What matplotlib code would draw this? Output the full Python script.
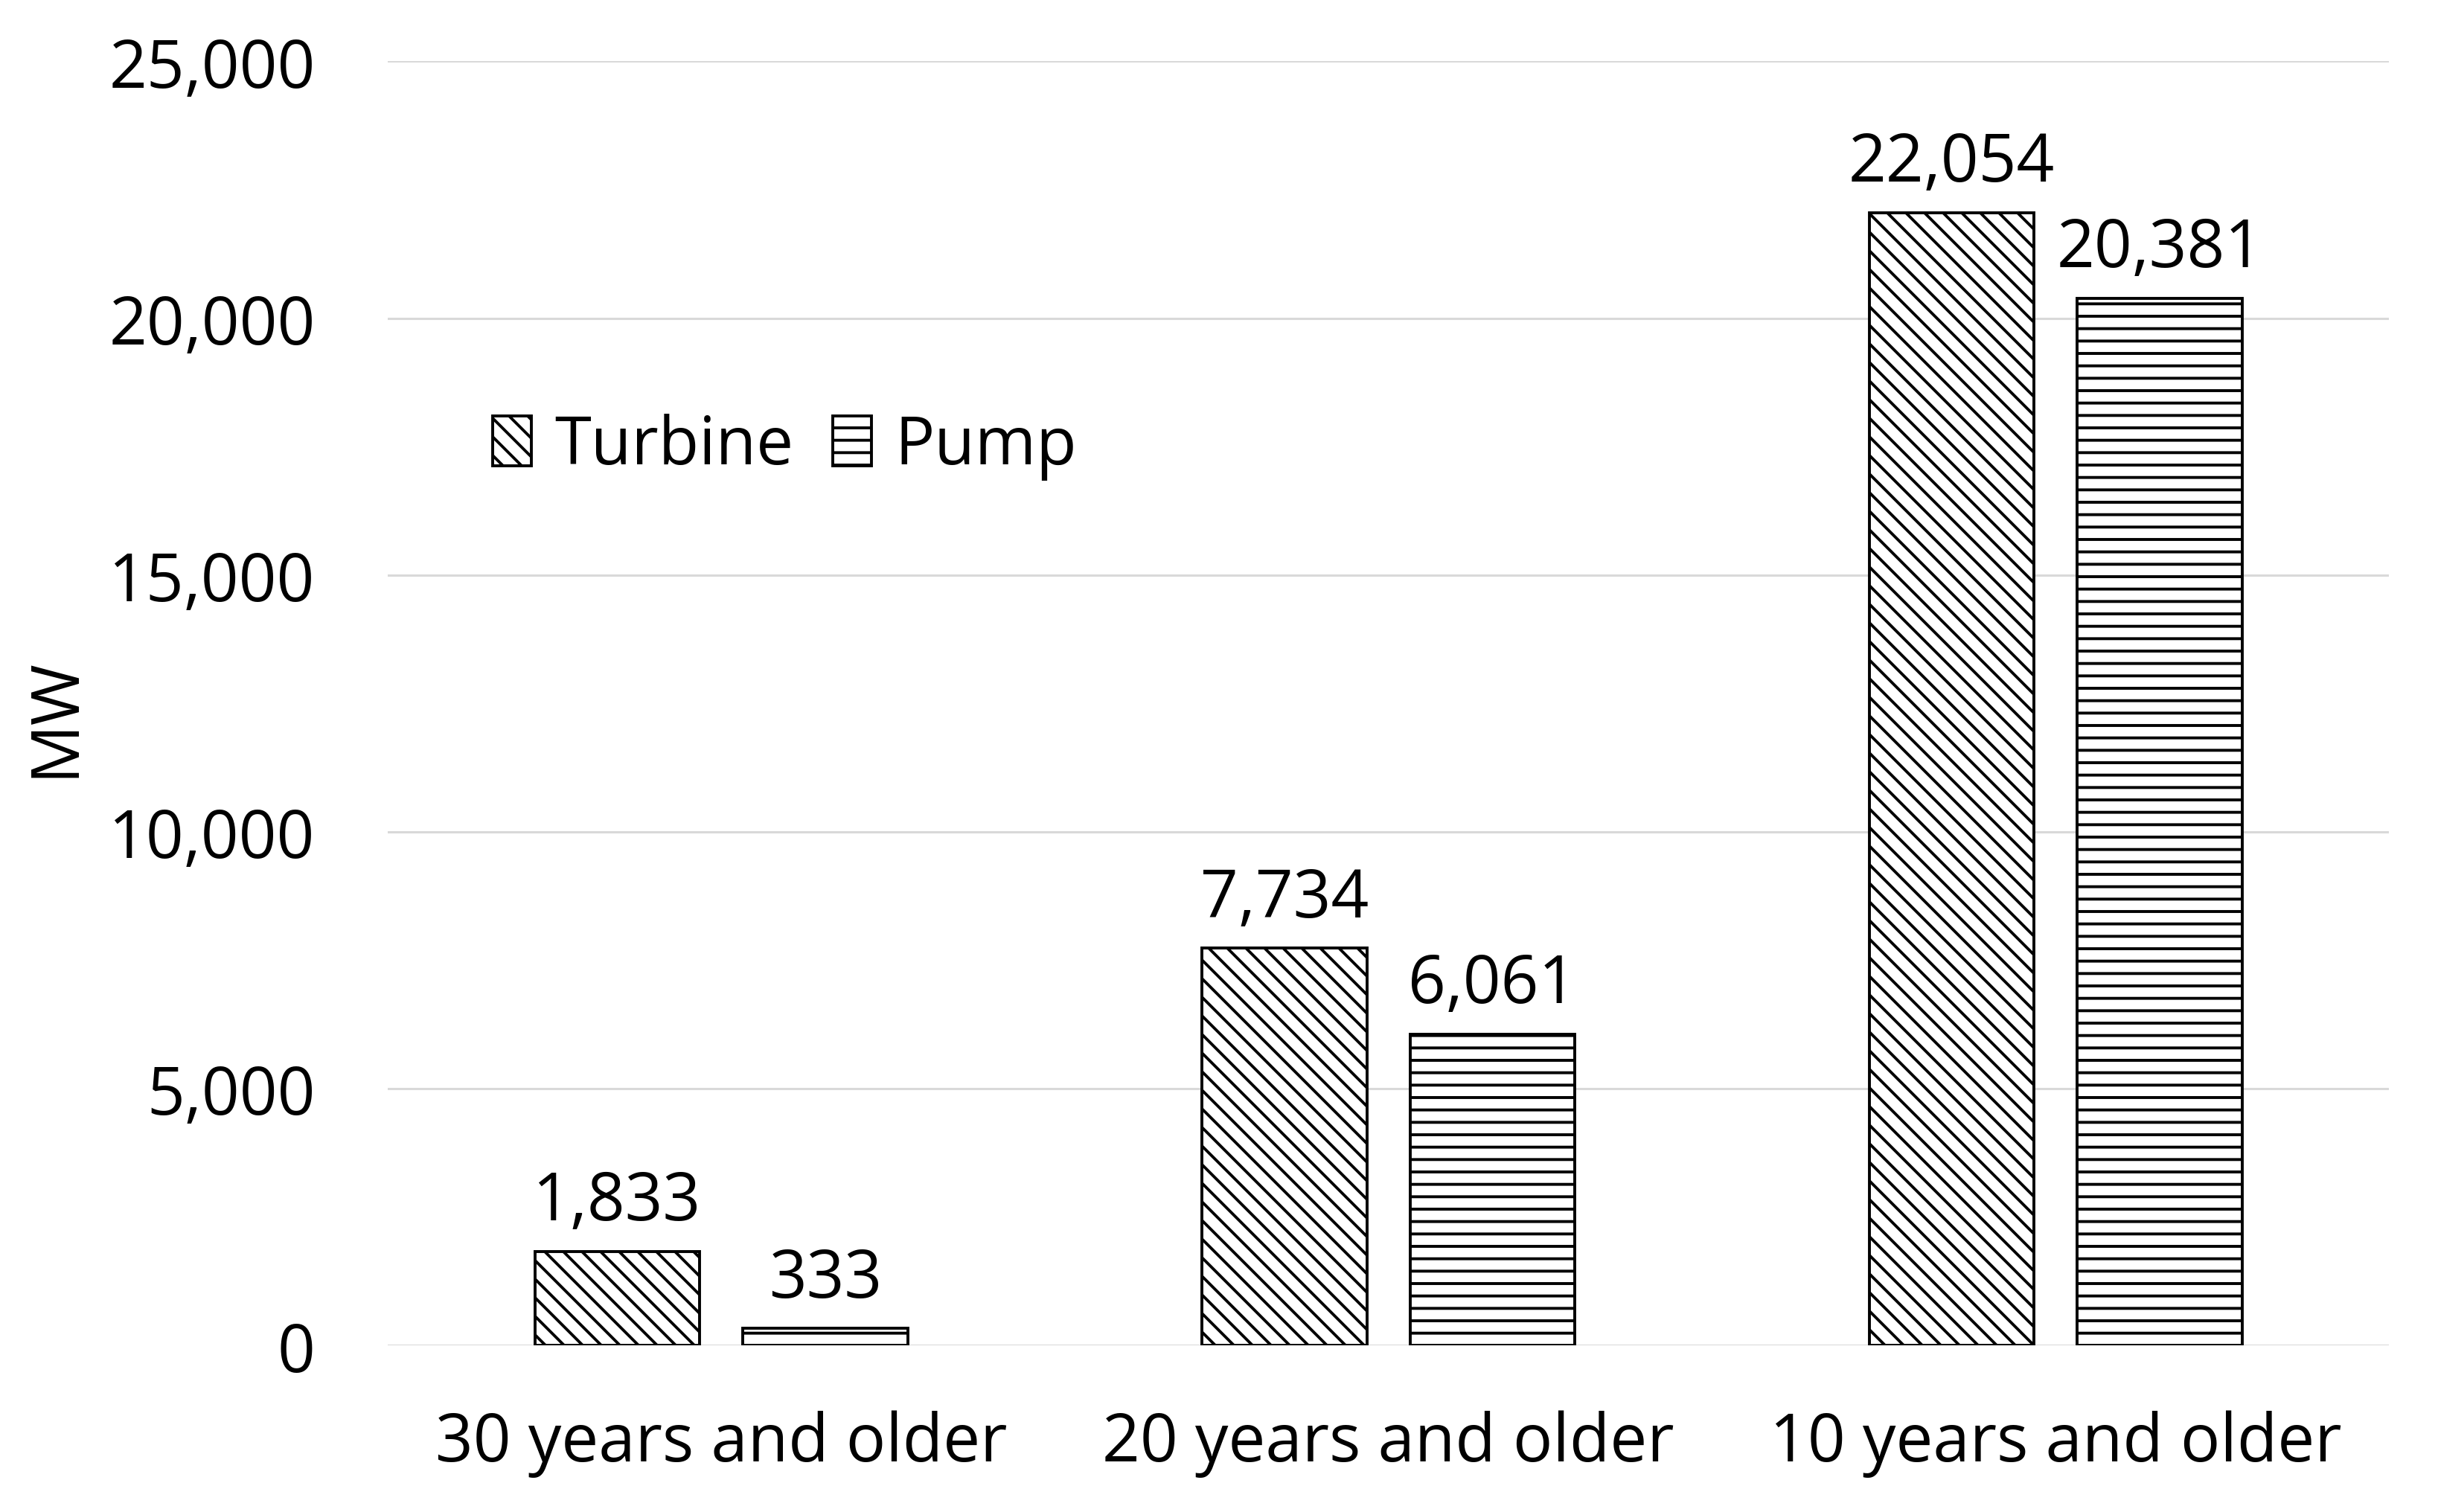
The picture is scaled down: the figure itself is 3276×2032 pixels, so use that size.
import numpy as np
import matplotlib
matplotlib.use("Agg")
import matplotlib.pyplot as plt
import matplotlib.hatch as mhatch
from matplotlib.path import Path

# values
categories = ["30 years and older", "20 years and older", "10 years and older"]
turbine = [1833, 7734, 22054]
pump = [333, 6061, 20381]
series_names = ["Turbine", "Pump"]
y_ticks = [0, 5000, 10000, 15000, 20000, 25000]


def hatch_path(pattern, density=6):
    # diagonal hatch of the original is a little denser than matplotlib's default
    if pattern is None:
        return None
    if '\\' in pattern:
        density = 8
    return mhatch.get_path(pattern, density)


Path.hatch = staticmethod(hatch_path)

plt.rcParams['font.family'] = ['Open Sans', 'DejaVu Sans']
plt.rcParams['hatch.linewidth'] = 2.8
plt.rcParams['hatch.color'] = 'black'

FS = 64

fig = plt.figure(figsize=(32.76, 20.33), dpi=100)
ax = fig.add_axes([0.159, 0.110, 0.821, 0.849])

x = np.arange(len(categories))
width = 0.247
offset = 0.156

b1 = ax.bar(x - offset, turbine, width, color='white', edgecolor='black',
            linewidth=2.8, hatch='\\', label=series_names[0], zorder=3)
b2 = ax.bar(x + offset, pump, width, color='white', edgecolor='black',
            linewidth=2.8, hatch='-', label=series_names[1], zorder=3)

for bars, vals in [(b1, turbine), (b2, pump)]:
    for rect, v in zip(bars, vals):
        ax.annotate(f"{v:,}", (rect.get_x() + rect.get_width() / 2, v),
                    xytext=(0, 15), textcoords='offset points',
                    ha='center', va='bottom', fontsize=FS)

ax.set_xlim(-0.5, 2.5)
ax.set_ylim(0, 25000)
ax.set_yticks(y_ticks)
ax.set_yticklabels([f"{t:,}" for t in y_ticks])
ax.set_xticks(x)
ax.set_xticklabels(categories)
ax.tick_params(axis='both', length=0, labelsize=FS)
ax.tick_params(axis='y', pad=70)
ax.tick_params(axis='x', pad=62)
ax.set_ylabel("MW", fontsize=FS)
ax.yaxis.set_label_coords(-0.149, 0.49)

ax.grid(axis='y', color='#d9d9d9', linewidth=2.2, zorder=0)
for s in ax.spines.values():
    s.set_visible(False)

ax.legend(loc='center left', bbox_to_anchor=(0.036, 0.70), frameon=False,
          fontsize=FS, borderpad=0, handlelength=0.58, handleheight=0.78,
          handletextpad=0.35, columnspacing=0.6, ncol=2)

fig.savefig("out.png", dpi=100)
